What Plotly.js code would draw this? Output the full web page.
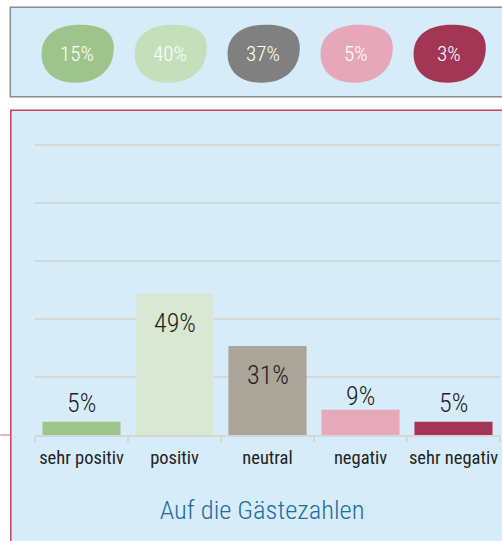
<!DOCTYPE html>
<html>
<head>
<meta charset="utf-8">
<script src="https://cdn.plot.ly/plotly-3.0.1.min.js"></script>
<style>html,body{margin:0;padding:0;background:#fff;}#chart{width:502px;height:541px;}</style>
</head>
<body>
<div id="chart"></div>
<script>
// Bar chart data
var categories = ["sehr positiv", "positiv", "neutral", "negativ", "sehr negativ"];
var values = [4.6, 48.8, 30.7, 8.7, 4.6];
var barColors = ["#9dc68a", "#d9e8d3", "#aba498", "#e6a9b9", "#a43556"];

// Top bubble data
var bubbleValues = [15, 40, 37, 5, 3];
var bubbleColors = ["#9dc48a", "#c5dfbb", "#808080", "#e6a8b8", "#a33555"];

var chartTitle = "Auf die Gästezahlen";

var FONT = "Roboto Condensed, Liberation Sans Narrow, Roboto, sans-serif";

// pixel geometry helpers (plot area: x 34.7..500, y 144.3..435.3)
var L = 34.7, R = 2, T = 144.3, B = 541 - 435.3;
var W = 502 - L - R, H = 541 - T - B;
function px2paperX(p){ return (p - L) / W; }
function px2paperY(p){ return (541 - B - p) / H; }

var shapes = [];
// top panel
shapes.push({type:"rect", xref:"paper", yref:"paper", layer:"below",
  x0:px2paperX(10), x1:px2paperX(510), y0:px2paperY(97), y1:px2paperY(7.5),
  fillcolor:"#d7ecf9", line:{color:"#8c8c8c", width:1.5}});
// bottom panel
shapes.push({type:"rect", xref:"paper", yref:"paper", layer:"below",
  x0:px2paperX(10.5), x1:px2paperX(510), y0:px2paperY(560), y1:px2paperY(110.5),
  fillcolor:"#d7ecf9", line:{color:"#c4416a", width:1.5}});
// small line left of panel
shapes.push({type:"line", xref:"paper", yref:"paper", layer:"below",
  x0:px2paperX(0), x1:px2paperX(10), y0:0, y1:0, line:{color:"#c86a88", width:1}});

// blob template in normalized coordinates
var blob = [
  ["M", -0.98, 0.0],
  ["C", -0.98, 0.7, -0.5, 1.0, 0.05, 1.0],
  ["C", 0.7, 1.0, 1.0, 0.75, 1.0, 0.2],
  ["C", 1.0, -0.5, 0.6, -1.0, -0.05, -1.0],
  ["C", -0.65, -1.0, -0.98, -0.6, -0.98, 0.0]
];
var halfW = 36.5 / (W / 5), halfH = 29 / H;
var bubbleY = px2paperY(54);
var annotations = [];
bubbleValues.forEach(function(v, i){
  var cx = i - 0.045;
  var d = blob.map(function(seg){
    var s = seg[0];
    var pts = [];
    for (var k = 1; k < seg.length; k += 2) {
      pts.push((cx + seg[k] * halfW).toFixed(4) + "," + (bubbleY + seg[k+1] * halfH).toFixed(4));
    }
    return s + pts.join(" ");
  }).join(" ") + " Z";
  shapes.push({type:"path", xref:"x", yref:"paper", path:d, fillcolor:bubbleColors[i], line:{width:0}, layer:"above"});
  annotations.push({x:cx, y:bubbleY, xref:"x", yref:"paper", xanchor:"center", yanchor:"middle",
    text:v + "%", showarrow:false,
    font:{family:FONT, size:21, color:"#ffffff", weight:300}});
});

// bar value labels
values.forEach(function(v, i){
  var inside = v > 20;
  annotations.push({x:i, y:v, xref:"x", yref:"y", xanchor:"center", yanchor:"middle",
    text:Math.round(v) + "%", showarrow:false,
    yshift: inside ? -29 : (v < 6 ? 19 : 14),
    font:{family:FONT, size:26, color:"#1e1e1e", weight:300}});
});

var trace = {
  type:"bar", x:categories, y:values,
  marker:{color:barColors, line:{width:0}},
  hoverinfo:"skip"
};

var layout = {
  width:502, height:541,
  margin:{l:L, r:R, t:T, b:B, pad:0},
  paper_bgcolor:"#ffffff", plot_bgcolor:"rgba(0,0,0,0)",
  showlegend:false,
  bargap:0.16,
  font:{family:FONT, color:"#222222"},
  title:{text:chartTitle, x:0.522, xanchor:"center", y:1 - 510/541, yanchor:"middle", xref:"container", yref:"container",
    font:{family:FONT, size:26.5, color:"#1f6d9e", weight:300}},
  xaxis:{type:"category", range:[-0.5, 4.5], showgrid:false, zeroline:false,
    showline:true, linecolor:"#d6d6d6", linewidth:2, tickangle:0,
    ticks:"outside", tickson:"boundaries", ticklen:5, tickwidth:2, tickcolor:"#d6d6d6",
    tickfont:{family:FONT, size:18.5, color:"#222222", weight:400}, ticklabelstandoff:5, fixedrange:true},
  yaxis:{range:[0, 100.4], tickvals:[20, 40, 60, 80, 100], showgrid:true, gridcolor:"#d6d6d6", gridwidth:2,
    zeroline:false, showticklabels:false, ticks:"", fixedrange:true},
  shapes:shapes,
  annotations:annotations
};

Plotly.newPlot("chart", [trace], layout, {displayModeBar:false, staticPlot:true});
</script>
</body>
</html>
